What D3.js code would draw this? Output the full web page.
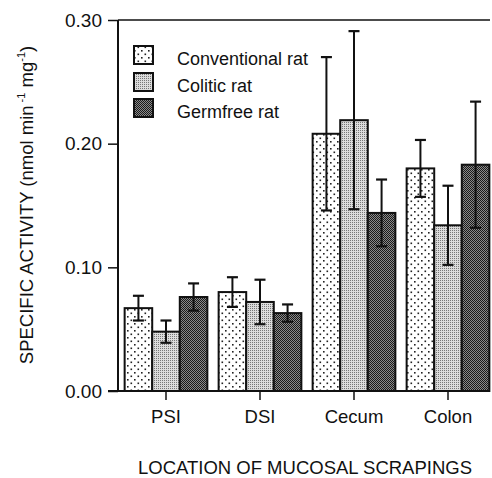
<!DOCTYPE html>
<html><head><meta charset="utf-8">
<script src="https://cdn.jsdelivr.net/npm/d3@7"></script>
<style>body{margin:0;background:#fff}svg{display:block}text{font-family:"Liberation Sans",Arial,sans-serif;fill:#111}</style>
</head><body><svg id="c" width="492" height="478"></svg>
<script>
const categories = ["PSI", "DSI", "Cecum", "Colon"];
const seriesNames = ["Conventional rat", "Colitic rat", "Germfree rat"];
const conventional = [0.067, 0.080, 0.208, 0.180];
const conventionalErr = [0.010, 0.012, 0.062, 0.023];
const colitic = [0.048, 0.072, 0.219, 0.134];
const coliticErr = [0.009, 0.018, 0.072, 0.032];
const germfree = [0.076, 0.063, 0.144, 0.183];
const germfreeErr = [0.011, 0.007, 0.027, 0.051];
const yTicks = [0.00, 0.10, 0.20, 0.30];

const svg = d3.select("#c");
const defs = svg.append("defs");
// patterns
const p1 = defs.append("pattern").attr("id","pConv").attr("patternUnits","userSpaceOnUse").attr("width",7).attr("height",7);
p1.append("rect").attr("width",7).attr("height",7).attr("fill","#fff");
p1.append("rect").attr("x",1).attr("y",1).attr("width",1.6).attr("height",1.6).attr("fill","#222");
p1.append("rect").attr("x",4.5).attr("y",4.5).attr("width",1.6).attr("height",1.6).attr("fill","#222");
const p2 = defs.append("pattern").attr("id","pCol").attr("patternUnits","userSpaceOnUse").attr("width",2).attr("height",2);
p2.append("rect").attr("width",2).attr("height",2).attr("fill","#dcdcdc");
p2.append("rect").attr("x",0).attr("y",0).attr("width",1).attr("height",1).attr("fill","#777");
const p3 = defs.append("pattern").attr("id","pGerm").attr("patternUnits","userSpaceOnUse").attr("width",2).attr("height",2);
p3.append("rect").attr("width",2).attr("height",2).attr("fill","#8a8a8a");
p3.append("rect").attr("x",0).attr("y",0).attr("width",1).attr("height",1).attr("fill","#1a1a1a");
p3.append("rect").attr("x",1).attr("y",1).attr("width",1).attr("height",1).attr("fill","#1a1a1a");
const fills = ["url(#pConv)","url(#pCol)","url(#pGerm)"];

const x0 = 118, yTop = 20, yBot = 391, xRight = 490;
const y = d3.scaleLinear().domain([0, 0.30]).range([yBot, yTop]);
const x = d3.scaleBand().domain(categories).range([119, 495]).paddingInner(0.12).paddingOuter(0.06);
const xs = d3.scaleBand().domain(seriesNames).range([0, x.bandwidth()]);

const series = [
  {name: seriesNames[0], vals: conventional, err: conventionalErr},
  {name: seriesNames[1], vals: colitic, err: coliticErr},
  {name: seriesNames[2], vals: germfree, err: germfreeErr}
];

// bars
series.forEach((s, si) => {
  const g = svg.append("g");
  categories.forEach((c, ci) => {
    const bx = x(c) + xs(s.name);
    g.append("rect").attr("x", bx).attr("y", y(s.vals[ci])).attr("width", xs.bandwidth())
      .attr("height", y(0) - y(s.vals[ci])).attr("fill", fills[si]).attr("stroke","#111").attr("stroke-width",2);
  });
});
// error bars
series.forEach((s) => {
  categories.forEach((c, ci) => {
    const cx = x(c) + xs(s.name) + xs.bandwidth()/2;
    const hi = y(s.vals[ci] + s.err[ci]), lo = y(s.vals[ci] - s.err[ci]);
    svg.append("line").attr("x1",cx).attr("x2",cx).attr("y1",hi).attr("y2",lo).attr("stroke","#111").attr("stroke-width",2);
    [hi, lo].forEach(yy => svg.append("line").attr("x1",cx-5.5).attr("x2",cx+5.5).attr("y1",yy).attr("y2",yy).attr("stroke","#111").attr("stroke-width",2.2));
  });
});

// axes
const yAxis = svg.append("g").attr("transform",`translate(${x0},0)`)
  .call(d3.axisLeft(y).tickValues(yTicks).tickFormat(d3.format(".2f")).tickSize(10).tickPadding(6));
yAxis.select(".domain").remove();
yAxis.selectAll("line").attr("stroke","#111").attr("stroke-width",1.5);
yAxis.selectAll("text").attr("font-size",19).style("font-family","Liberation Sans, Arial, sans-serif").attr("fill","#111");
svg.append("line").attr("x1",x0).attr("x2",x0).attr("y1",yTop).attr("y2",yBot+1).attr("stroke","#111").attr("stroke-width",2);
svg.append("line").attr("x1",x0).attr("x2",xRight).attr("y1",yTop).attr("y2",yTop).attr("stroke","#111").attr("stroke-width",1.5);

const xAxis = svg.append("g").attr("transform",`translate(0,${yBot})`)
  .call(d3.axisBottom(x).tickSize(9).tickPadding(10));
xAxis.select(".domain").remove();
xAxis.selectAll("line").attr("stroke","#111").attr("stroke-width",1.5);
xAxis.selectAll("text").attr("font-size",18.5).style("font-family","Liberation Sans, Arial, sans-serif").attr("fill","#111");
svg.append("line").attr("x1",x0-10).attr("x2",xRight).attr("y1",yBot).attr("y2",yBot).attr("stroke","#111").attr("stroke-width",1.8);

// axis titles
svg.append("text").attr("x", 305).attr("y", 474).attr("text-anchor","middle").attr("font-size",18.5)
  .text("LOCATION OF MUCOSAL SCRAPINGS");
const yl = svg.append("text").attr("transform","translate(33,205) rotate(-90)").attr("text-anchor","middle").attr("font-size",18.5);
yl.append("tspan").text("SPECIFIC ACTIVITY (nmol min");
yl.append("tspan").attr("font-size",11).attr("dy",-8).text(" -1");
yl.append("tspan").attr("dy",8).text(" mg");
yl.append("tspan").attr("font-size",11).attr("dy",-8).text("-1");
yl.append("tspan").attr("dy",8).text(")");

// legend
const leg = svg.append("g");
const legY = [46, 73, 99];
seriesNames.forEach((n, i) => {
  leg.append("rect").attr("x",134).attr("y",legY[i]).attr("width",19).attr("height",18)
    .attr("fill",fills[i]).attr("stroke","#111").attr("stroke-width",2);
  leg.append("text").attr("x",177).attr("y",legY[i]+18.5).attr("font-size",18).text(n);
});
</script></body></html>
